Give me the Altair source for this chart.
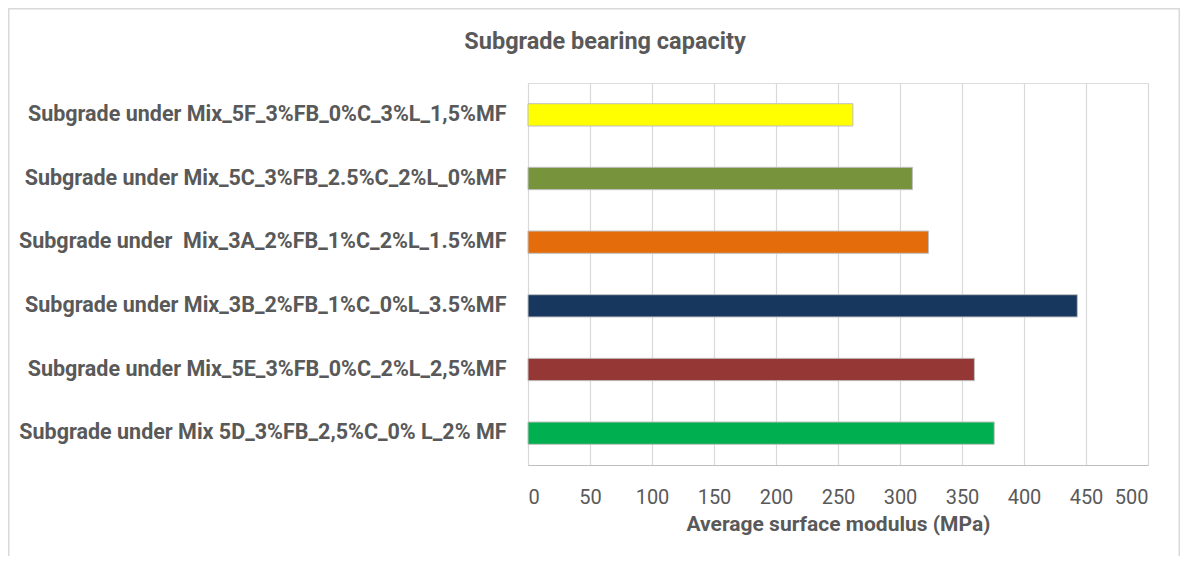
import altair as alt
import pandas as pd

categories = [
    "Subgrade under Mix_5F_3%FB_0%C_3%L_1,5%MF",
    "Subgrade under Mix_5C_3%FB_2.5%C_2%L_0%MF",
    "Subgrade under \u00a0Mix_3A_2%FB_1%C_2%L_1.5%MF",
    "Subgrade under Mix_3B_2%FB_1%C_0%L_3.5%MF",
    "Subgrade under Mix_5E_3%FB_0%C_2%L_2,5%MF",
    "Subgrade under Mix 5D_3%FB_2,5%C_0% L_2% MF",
]
values = [262, 310, 323, 443, 360, 376]
colors = ["#FFFF00", "#77933C", "#E46C0A", "#17375E", "#953735", "#00B050"]
tick_values = [0, 50, 100, 150, 200, 250, 300, 350, 400, 450, 500]

df = pd.DataFrame({"mix": categories, "modulus": values, "color": colors})

FONT = "Liberation Sans Narrow, Roboto"
GRAY = "#595959"

bars = alt.Chart(df).mark_bar(stroke="#BFBFBF", strokeWidth=1).encode(
    y=alt.Y(
        "mix:N",
        sort=categories,
        scale=alt.Scale(paddingInner=0.65, paddingOuter=0.325),
        axis=alt.Axis(
            title=None, ticks=False, domain=False, labelPadding=22,
            labelFont=FONT, labelFontSize=21.5, labelFontWeight="bold",
            labelColor=GRAY, labelLimit=700,
        ),
    ),
    x=alt.X(
        "modulus:Q",
        scale=alt.Scale(domain=[0, 500]),
        axis=alt.Axis(
            values=tick_values, title="Average surface modulus (MPa)",
            grid=True, gridColor="#D9D9D9", gridWidth=1.2, ticks=False,
            domainColor="#BFBFBF", labelFont=FONT, labelFontSize=20,
            labelColor=GRAY, labelPadding=22, titleFont=FONT, titleFontSize=21,
            titleFontWeight="bold", titleColor=GRAY, titlePadding=6,
        ),
    ),
    color=alt.Color("color:N", scale=None, legend=None),
)

frame = alt.Chart(pd.DataFrame({"a": [0]})).mark_rect(
    filled=False, stroke="#D9D9D9", strokeWidth=1.5
).encode(
    x=alt.value(-519.25), x2=alt.value(651.25),
    y=alt.value(-74.25), y2=alt.value(700),
)

chart = alt.layer(frame, bars).properties(
    width=620,
    height=382,
    padding={"left": 520, "top": 75, "right": 32, "bottom": 91},
    autosize=alt.AutoSizeParams(type="none"),
    title=alt.TitleParams(
        "Subgrade bearing capacity", font=FONT, fontSize=23.5, fontWeight="bold",
        color=GRAY, anchor="middle", frame="group", dx=-233, offset=0, dy=45,
    ),
).configure_view(stroke="#C8C8C8", strokeWidth=1.2).configure(background="white")

chart.save("out.html", embed_options={"renderer": "svg", "actions": False})
